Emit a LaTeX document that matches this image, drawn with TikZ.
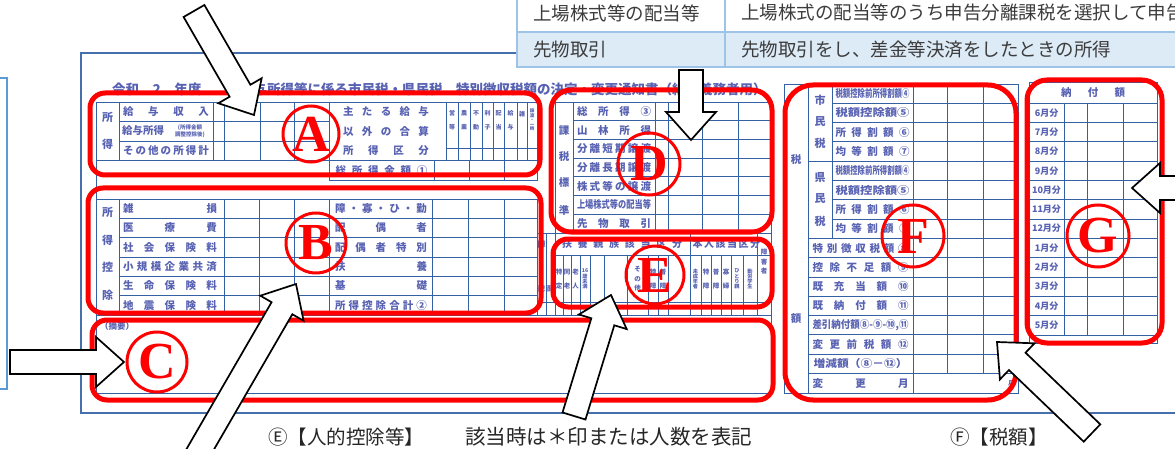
\documentclass[tikz,border=0pt]{standalone}
\usepackage{fontspec}
\newfontfamily\jp{Noto Sans CJK JP}
\newfontfamily\circfont{Liberation Serif}
\usetikzlibrary{calc}
\definecolor{gridblue}{RGB}{52,96,164}
\definecolor{formtext}{RGB}{88,98,178}
\definecolor{framec}{RGB}{70,112,172}
\definecolor{tborder}{RGB}{157,195,230}
\definecolor{tfill}{RGB}{221,235,247}
\definecolor{ttext}{RGB}{60,60,60}
\definecolor{leftbox}{RGB}{91,155,213}
\definecolor{redc}{RGB}{255,0,0}
\newcommand{\fsz}[1]{\fontsize{#1}{#1}\selectfont}
\newcommand{\spr}[2]{\makebox[#1][s]{#2}}
\newcommand{\lab}[5]{\node[lbl] (#1) at (#2,#3) {\spr{#4pt}{#5}};}
\newcommand{\clab}[5]{\node[lbl] (#1) at (#2,#3) {\resizebox{#4pt}{\height}{#5}};}
\newcommand{\vlab}[5]{\node[lbl, align=center, font=\jp\bfseries\fsz{#4}] (#1) at (#2,#3) {#5};}
\newcommand{\blockarrow}[3]{%
  \coordinate (#1-t) at #2;
  \coordinate (#1-p) at #3;
  \coordinate (#1-h) at ($(#1-p)!28pt!(#1-t)$);
  \draw[barrow] (#1-p) -- ($(#1-h)!25pt!90:(#1-p)$) -- ($(#1-h)!12pt!90:(#1-p)$)
    -- ($(#1-t)!12pt!90:(#1-h)$) -- ($(#1-t)!12pt!-90:(#1-h)$)
    -- ($(#1-h)!12pt!-90:(#1-p)$) -- ($(#1-h)!25pt!-90:(#1-p)$) -- cycle;}
\begin{document}
\begin{tikzpicture}[x=1pt,y=-1pt,
  grid/.style={draw=gridblue, line width=0.9pt},
  lbl/.style={font=\jp\bfseries\fsz{10.5}, text=formtext, inner sep=0pt},
  redbox/.style={draw=redc, line width=5pt, rounded corners=#1},
  redbox/.default=15pt,
  circ/.style={circle, draw=redc, line width=3pt, text=redc, inner sep=0pt, minimum size=#1, font=\circfont\bfseries\fsz{52}},
  barrow/.style={draw=black, line width=1.7pt, fill=white, line join=miter, miter limit=20},
  ttxt/.style={font=\jp\fsz{18.5}, text=ttext, anchor=west, inner sep=0pt},
  btxt/.style={font=\jp\fsz{19.5}, text=black!85, anchor=west, inner sep=0pt}]
\useasboundingbox (0,0) rectangle (1175,449);
\fill[white] (0,0) rectangle (1175,449);

% left blue box
\draw[leftbox, line width=2pt] (-10,78) -- (7,78) -- (7,389) -- (-10,389);

% outer frame of form
\draw[framec, line width=1.4pt] (81,53) rectangle (1190,413);

% title
\node[lbl, font=\jp\bfseries\fsz{13.5}, anchor=west] (t1) at (112,89) {令和　2　年度};
\node[lbl, font=\jp\bfseries\fsz{13.5}, anchor=west] (t2) at (240,89) {給与所得等に係る市民税・県民税　特別徴収税額の決定・変更通知書（納税義務者用）};

% ---------- A : income ----------
\draw[grid] (96,102) rectangle (537,160);
\foreach \y in {121,141} \draw[grid] (119,\y) -- (329,\y);
\foreach \x in {119,213,224,260,294,329,446,458,470,482,493,504,517,527} \draw[grid] (\x,102) -- (\x,160);
\draw[grid] (446,148) -- (537,148);
\draw[grid] (329,160) rectangle (537,180);
\foreach \x in {434,469,504} \draw[grid] (\x,160) -- (\x,180);
\vlab{a0}{107.5}{117}{11}{所}
\vlab{a00}{107.5}{144}{11}{得}
\lab{a1}{166}{111.5}{86}{給 与 収 入}
\node[lbl, anchor=west] (a2) at (122,131) {給与所得};
\vlab{a2s}{190}{131}{5.5}{(所得金額\\調整控除後)}
\lab{a3}{166}{150.5}{86}{そ の 他 の 所 得 計}
\lab{a4}{386}{111.5}{86}{主 た る 給 与}
\lab{a5}{386}{131}{86}{以 外 の 合 算}
\lab{a6}{386}{150.5}{86}{所 得 区 分}
\vlab{s1}{452}{120}{6}{営\\[8pt]等}
\vlab{s2}{464}{120}{6}{農\\[8pt]業}
\vlab{s3}{476}{120}{6}{不\\[8pt]動}
\vlab{s4}{487.5}{120}{6}{利\\[8pt]子}
\vlab{s5}{498.5}{120}{6}{配\\[8pt]当}
\vlab{s6}{510.5}{120}{6}{給\\[8pt]与}
\vlab{s7}{522}{114}{6}{雑}
\vlab{s8}{532}{120}{4.5}{譲\\渡\\・\\一\\時}
\lab{a7}{381.5}{170}{92}{総 所 得 金 額 ①}

% ---------- B : deductions ----------
\draw[grid] (96,199) rectangle (537,315);
\foreach \k in {1,...,5} \draw[grid] (119,{199+19.33*\k}) -- (537,{199+19.33*\k});
\foreach \x in {119,224,259,294,329,432,468,504} \draw[grid] (\x,199) -- (\x,315);
\vlab{b0}{107.5}{212}{11}{所}
\vlab{b00}{107.5}{240}{11}{得}
\vlab{b000}{107.5}{267}{11}{控}
\vlab{b0000}{107.5}{295}{11}{除}
\lab{b1}{170}{208.7}{94}{雑 損}
\lab{b2}{170}{228}{94}{医 療 費}
\lab{b3}{170}{247.3}{94}{社 会 保 険 料}
\lab{b4}{170}{266.7}{94}{小 規 模 企 業 共 済}
\lab{b5}{170}{286}{94}{生 命 保 険 料}
\lab{b6}{170}{305.3}{94}{地 震 保 険 料}
\lab{b7}{381}{208.7}{92}{障 ・ 寡 ・ ひ ・ 勤}
\lab{b8}{381}{228}{92}{配 偶 者}
\lab{b9}{381}{247.3}{92}{配 偶 者 特 別}
\lab{b10}{381}{266.7}{92}{扶 養}
\lab{b11}{381}{286}{92}{基 礎}
\lab{b12}{381}{305.3}{92}{所 得 控 除 合 計 ②}

% ---------- C : remarks ----------
\draw[grid] (96,102) -- (96,393);
\draw[grid] (96,315) rectangle (771,393);
\vlab{c1}{117}{326}{8.5}{（摘要）}

% ---------- D : tax base ----------
\draw[grid] (555,102) rectangle (771,233);
\foreach \k in {1,...,6} \draw[grid] (573,{102+18.71*\k}) -- (771,{102+18.71*\k});
\foreach \x in {573,655,668,702,738} \draw[grid] (\x,102) -- (\x,233);
\vlab{d0}{564}{131}{10.5}{課}
\vlab{d00}{564}{157}{10.5}{税}
\vlab{d000}{564}{183}{10.5}{標}
\vlab{d0000}{564}{210}{10.5}{準}
\lab{d1}{614}{111.4}{74}{総 所 得 ③}
\lab{d2}{614}{130.1}{74}{山 林 所 得}
\lab{d3}{614}{148.8}{74}{分 離 短 期 譲 渡}
\lab{d4}{614}{167.5}{74}{分 離 長 期 譲 渡}
\lab{d5}{614}{186.2}{74}{株 式 等 の 譲 渡}
\clab{d6}{614}{204.9}{74}{上場株式等の配当等}
\lab{d7}{614}{223.6}{74}{先 物 取 引}

% ---------- E : personal deductions ----------
\draw[grid] (537,233) rectangle (771,315);
\draw[grid] (555,255) -- (771,255);
\draw[grid] (537,302) -- (771,302);
\foreach \x in {546,555,690,757} \draw[grid] (\x,233) -- (\x,315);
\foreach \x in {563,571,580,590,604,627,648,658,668,701,711,721,731,743} \draw[grid] (\x,255) -- (\x,315);
\node[lbl, font=\jp\bfseries\fsz{10}] (eh1) at (622,244) {\spr{120pt}{扶 養 親 族 該 当 区 分}};
\node[lbl, font=\jp\bfseries\fsz{10}] (eh2) at (723.5,244) {\spr{62pt}{本 人 該 当 区 分}};
\vlab{e0}{541.5}{244}{8}{障}
\vlab{e1}{541.5}{289}{7}{配}
\vlab{e2}{550.5}{289}{7}{配}
\vlab{e3}{559}{279}{6.5}{特\\[8pt]定}
\vlab{e4}{567}{279}{6.5}{同\\[8pt]老}
\vlab{e5}{575.5}{279}{6.5}{老\\[8pt]人}
\vlab{e6}{585}{279}{5.2}{16\\歳\\未\\満}
\vlab{e7}{637.5}{279}{6.5}{そ\\[3pt]の\\[3pt]他}
\vlab{e8}{653}{279}{6.5}{特\\[8pt]障}
\vlab{e9}{663}{279}{6.5}{普\\[8pt]障}
\vlab{e10}{695.5}{279}{5.2}{未\\成\\年\\者}
\vlab{e11}{706}{279}{6.5}{特\\[8pt]障}
\vlab{e12}{716}{279}{6.5}{普\\[8pt]障}
\vlab{e13}{726}{279}{6.5}{寡\\[8pt]婦}
\vlab{e14}{737}{279}{5.2}{ひ\\と\\り\\親}
\vlab{e15}{750}{279}{5.2}{勤\\労\\学\\生}
\vlab{e16}{764}{262}{6.5}{障\\[3pt]害\\[3pt]者}

% ---------- F : tax amount ----------
\draw[grid] (784,84) rectangle (1018,393);
\draw[grid] (808,84) -- (808,393);
\draw[grid] (832,84) -- (832,{84+19.3*8});
\draw[grid] (913,84) -- (913,393);
\foreach \x in {947,983} \draw[grid] (\x,84) -- (\x,{84+19.3*15});
\foreach \k in {1,2,3,5,6,7} \draw[grid] (832,{84+19.3*\k}) -- (1018,{84+19.3*\k});
\foreach \k in {4,8,9,10,11,12,13,14,15} \draw[grid] (808,{84+19.3*\k}) -- (1018,{84+19.3*\k});
\vlab{f0}{796}{160}{10.5}{税}
\vlab{f00}{796}{319}{10.5}{額}
\vlab{f1}{820}{100}{11}{市}
\vlab{f2}{820}{122}{11}{民}
\vlab{f3}{820}{143}{11}{税}
\vlab{f4}{820}{178}{11}{県}
\vlab{f5}{820}{199}{11}{民}
\vlab{f6}{820}{221}{11}{税}
\clab{f7}{872.5}{93.7}{74}{税額控除前所得割額④}
\clab{f8}{872.5}{113}{74}{税額控除額⑤}
\lab{f9}{872.5}{132.3}{74}{所 得 割 額 ⑥}
\lab{f10}{872.5}{151.6}{74}{均 等 割 額 ⑦}
\clab{f11}{872.5}{170.9}{74}{税額控除前所得割額④}
\clab{f12}{872.5}{190.2}{74}{税額控除額⑤}
\lab{f13}{872.5}{209.5}{74}{所 得 割 額 ⑥}
\lab{f14}{872.5}{228.8}{74}{均 等 割 額 ⑦}
\lab{f15}{860.5}{248.1}{96}{特 別 徴 収 税 額 ⑧}
\lab{f16}{860.5}{267.4}{96}{控 除 不 足 額 ⑨}
\lab{f17}{860.5}{286.7}{96}{既 充 当 額 ⑩}
\lab{f18}{860.5}{306}{96}{既 納 付 額 ⑪}
\clab{f19}{860.5}{325.3}{96}{差引納付額⑧-⑨-⑩,⑪}
\lab{f20}{860.5}{344.6}{96}{変 更 前 税 額 ⑫}
\clab{f21}{860.5}{363.9}{94}{増減額（⑧－⑫）}
\lab{f22}{860.5}{383.2}{96}{変 更 月}
\vlab{f23}{1011}{383}{6}{月}

% ---------- G : monthly payments ----------
\draw[grid] (1029,82) rectangle (1157,343);
\draw[grid] (1029,103) -- (1157,103);
\foreach \k in {1,...,12} \draw[grid] (1029,{103+19.33*\k}) -- (1157,{103+19.33*\k});
\foreach \x in {1064,1087,1123} \draw[grid] (\x,103) -- (\x,{103+19.33*12});
\lab{g0}{1093}{92.5}{64}{納 付 額}
\foreach \m [count=\k from 0] in {6,7,8,9,10,11,12,1,2,3,4,5}
  \node[lbl, font=\jp\bfseries\fsz{9}] (gm\k) at (1046.5,{103+19.33*(\k+0.5)}) {\m 月分};

% ---------- top table ----------
\fill[white] (517,-5) rectangle (1190,32);
\fill[tfill] (517,32) rectangle (1190,67);
\draw[tborder, line width=1.8pt] (517,-5) rectangle (1190,67);
\draw[tborder, line width=1.8pt] (517,32) -- (1190,32);
\draw[tborder, line width=1.8pt] (725,-5) -- (725,67);
\node[ttxt] (r1a) at (533,13) {上場株式等の配当等};
\node[ttxt] (r1b) at (741,13) {上場株式の配当等のうち申告分離課税を選択して申告};
\node[ttxt] (r2a) at (533,50) {先物取引};
\node[ttxt] (r2b) at (741,50) {先物取引をし、差金等決済をしたときの所得};

% ---------- red frames and letters ----------
\draw[redbox] (90,93) rectangle (540,175);
\draw[redbox] (88,188) rectangle (541,313);
\draw[redbox] (92,320) rectangle (773,400);
\draw[redbox=20pt] (551,90) rectangle (772,232);
\draw[redbox] (553,239) rectangle (772,307);
\draw[redbox=28pt] (785,85) rectangle (1016,400);
\draw[redbox=20pt] (1027,80) rectangle (1162,343);
\node[circ=56pt] (cA) at (311,134) {A};
\node[circ=60pt] (cB) at (316,243) {B};
\node[circ=60pt] (cC) at (157,362) {C};
\node[circ=62pt] (cD) at (649,164) {D};
\node[circ=58pt] (cE) at (655,275) {E};
\node[circ=62pt] (cF) at (913,236) {F};
\node[circ=62pt] (cG) at (1098,236) {G};

% ---------- block arrows ----------
\blockarrow{aA}{(194,11)}{(254,115)}
\blockarrow{aB}{(194,460)}{(296,284)}
\blockarrow{aC}{(10,362)}{(124,362)}
\blockarrow{aD}{(691,70)}{(691,140)}
\blockarrow{aE}{(574,416)}{(611,295)}
\blockarrow{aF}{(1092,433)}{(997,342)}
\blockarrow{aG}{(1200,188)}{(1132,188)}

% ---------- bottom captions ----------
\node[btxt] (capE) at (268,437) {Ⓔ【人的控除等】};
\node[btxt, font=\jp\fsz{20.5}] (capE2) at (465,437) {該当時は＊印または人数を表記};
\node[btxt] (capF) at (950,437) {Ⓕ【税額】};
\end{tikzpicture}
\end{document}
